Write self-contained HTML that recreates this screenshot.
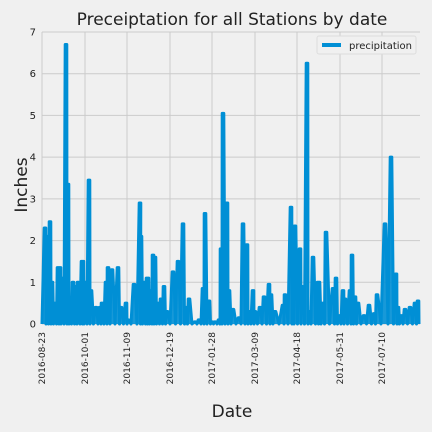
<!DOCTYPE html>
<html><head><meta charset="utf-8"><style>
html,body{margin:0;padding:0;background:#f0f0f0;}
svg{display:block;font-family:"DejaVu Sans","Liberation Sans",sans-serif;}
</style></head><body>
<svg id="chart" width="432" height="432" viewBox="0 0 432 432">
<rect width="432" height="432" fill="#f0f0f0"/>
<text x="232" y="25" font-size="17" text-anchor="middle" fill="#222">Preceiptation for all Stations by date</text>
<g id="grid"></g><g id="ticks"></g><g id="series"></g>
<text transform="translate(27,185) rotate(-90)" font-size="17" text-anchor="middle" fill="#222">Inches</text>
<text x="232" y="417" font-size="17" text-anchor="middle" fill="#222">Date</text>
<g>
<rect x="317" y="36" width="99" height="18" rx="2" fill="#f0f0f0" stroke="#ddd"/>
<line x1="322" y1="45" x2="341" y2="45" stroke="#008fd5" stroke-width="4"/>
<text x="349" y="49" font-size="10" fill="#222">precipitation</text>
</g>
</svg>
<script>
const peakIdx=[3,5,8,10,13,16,18,20,24,26,28,31,34,36,40,41,43,47,49,54,58,60,64,66,70,76,79,84,86,92,98,99,102,105,106,109,111,113,116,119,122,125,131,136,141,144,147,153,157,161,163,167,170,173,177,179,181,185,187,191,197,201,205,207,211,213,218,222,227,229,233,241,243,249,251,253,258,260,265,267,271,276,277,281,284,291,294,297,301,303,308,310,313,316,322,327,332,335,343,349,354,356,359,363,368,373,376,378];
const peakVal=[2.3,2.1,2.45,1.0,0.5,1.35,1.35,1.1,6.7,3.35,0.6,1.0,0.9,1.0,1.5,1.5,1.0,3.45,0.8,0.4,0.4,0.5,1.0,1.35,1.3,1.35,0.4,0.5,0.1,0.95,2.9,2.1,1.0,1.1,1.1,0.8,1.65,1.6,0.5,0.6,0.9,0.3,1.25,1.5,2.4,0.4,0.6,0.05,0.1,0.85,2.65,0.55,0.05,0.05,0.1,1.8,5.05,2.9,0.8,0.35,0.15,2.4,1.9,0.3,0.8,0.3,0.4,0.65,0.95,0.7,0.3,0.45,0.7,2.8,2.0,2.35,1.8,0.9,6.25,0.3,1.6,1.0,1.0,0.5,2.2,0.85,1.1,0.2,0.8,0.6,0.8,1.65,0.65,0.5,0.2,0.45,0.25,0.7,2.4,4.0,1.2,0.4,0.2,0.35,0.4,0.5,0.55];
const xTickIdx=[0,43,85,128,170,213,255,298,340];
const xTickLabels=["2016-08-23","2016-10-01","2016-11-09","2016-12-19","2017-01-28","2017-03-09","2017-04-18","2017-05-31","2017-07-10"];
const yTicks=[0,1,2,3,4,5,6,7];
const NS="http://www.w3.org/2000/svg";
const X0=42,X1=420,Y0=324,Y1=32,N=378,YMAX=7;
const xs=i=>X0+(X1-X0)*i/N, ys=v=>Y0-(Y0-Y1)*v/YMAX;
function mk(t,a,p){const e=document.createElementNS(NS,t);for(const k in a)e.setAttribute(k,a[k]);p.appendChild(e);return e;}
const grid=document.getElementById('grid'),ticks=document.getElementById('ticks'),series=document.getElementById('series');
yTicks.forEach(v=>{
 const l=mk('line',{x1:X0,x2:X1,y1:ys(v),y2:ys(v),stroke:'#cbcbcb','stroke-width':1},grid);
 
 
 const t=mk('text',{x:36,y:ys(v)+3.5,'font-size':10,'text-anchor':'end',fill:'#222'},ticks);
 t.textContent=v;
 
 
});
xTickIdx.forEach((i,k)=>{
 const x=xs(i);
 const l=mk('line',{x1:x,x2:x,y1:Y1,y2:Y0,stroke:'#cbcbcb','stroke-width':1},grid);
 
 
 const t=mk('text',{transform:`translate(${x+3.2},332) rotate(-90)`,'font-size':9,'text-anchor':'end',fill:'#222'},ticks);
 t.textContent=xTickLabels[k];
 
 
});
let pts=[[xs(0),ys(0)]];
peakIdx.forEach((p,k)=>{
 pts.push([xs(p-0.8),ys(peakVal[k])]);
 pts.push([xs(p+0.8),ys(peakVal[k])]);
 const nx=k+1<peakIdx.length?(p+peakIdx[k+1])/2:N;
 pts.push([xs(nx),ys(0)]);
});
const area=mk('polygon',{points:pts.map(q=>q.join(',')).join(' ')+` ${xs(N)},${ys(0)}`,fill:'#008fd5','fill-opacity':0.9},series);


const line=mk('polyline',{points:pts.map(q=>q.join(',')).join(' '),fill:'none',stroke:'#008fd5','stroke-width':3,'stroke-linejoin':'round'},series);


</script>
</body></html>
